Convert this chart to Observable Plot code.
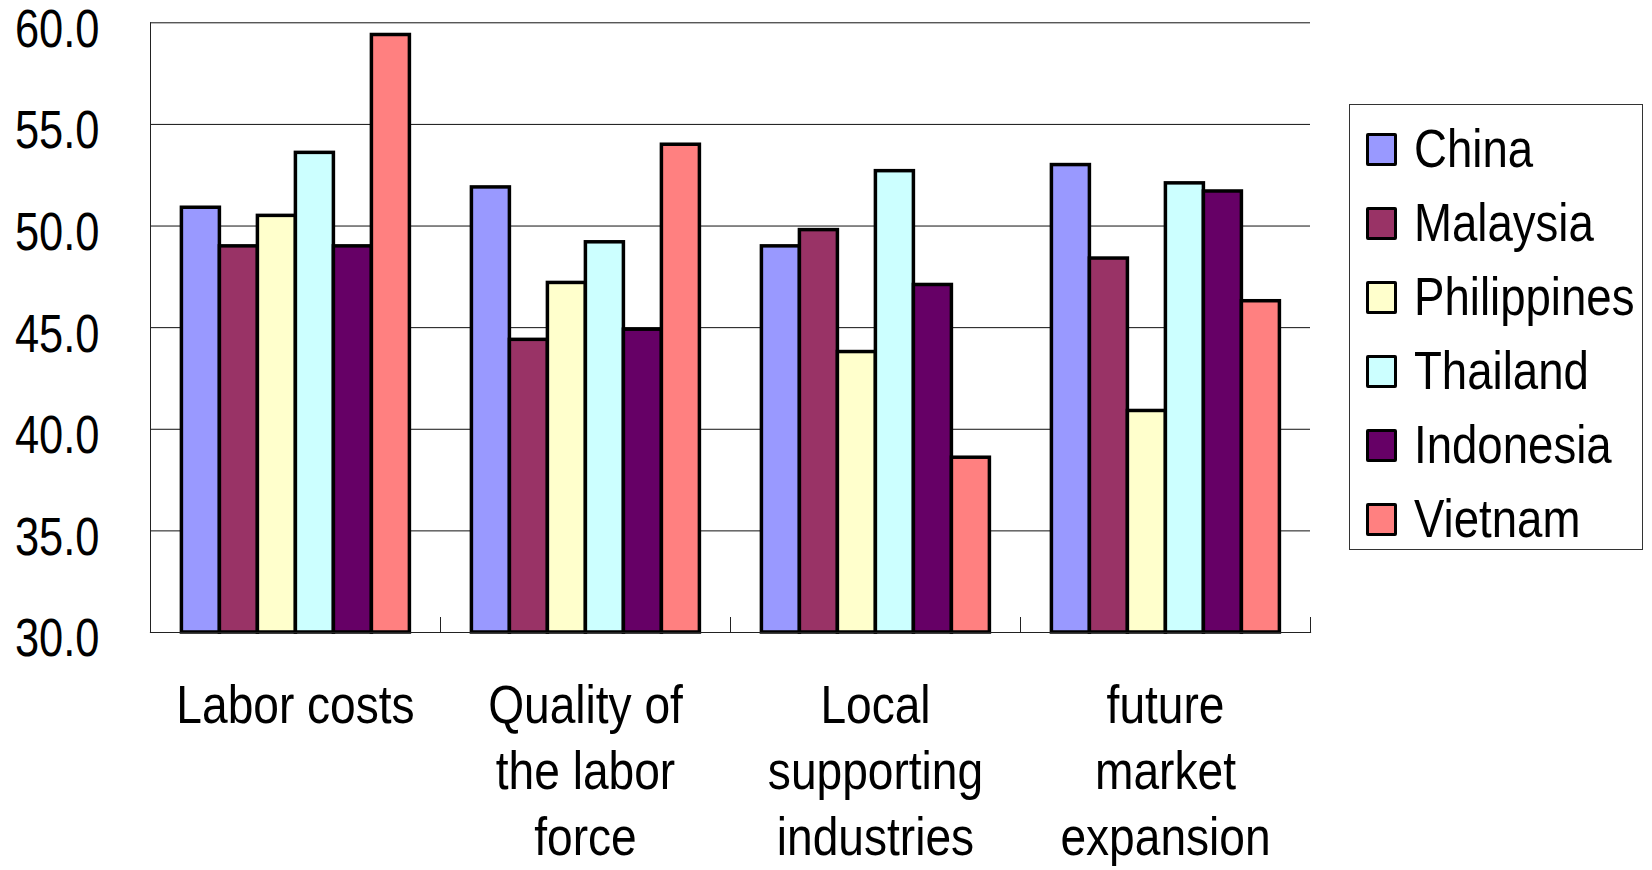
<!DOCTYPE html>
<html>
<head>
<meta charset="utf-8">
<script src="https://cdn.jsdelivr.net/npm/d3@7"></script>
<script src="https://cdn.jsdelivr.net/npm/@observablehq/plot@0.6"></script>
<style>
  html, body { margin: 0; padding: 0; background: #fff; }
  #chart { position: relative; width: 1652px; height: 870px; overflow: hidden;
           font-family: "Liberation Sans", Arial, sans-serif; }
  #chart svg { position: absolute; left: 0; top: 0; }
  #legend { position: absolute; left: 1349px; top: 104px; width: 294px; height: 446px;
            box-sizing: border-box; border: 1px solid #333; background: #fff; }
  .row { position: absolute; left: 16px; height: 74px; display: flex; align-items: center; }
  .sw { width: 31px; height: 33px; box-sizing: border-box; border: 3px solid #000; border-radius: 2px; flex: none; }
  .lab { margin-left: 17px; font-size: 53px; line-height: 1; color: #000; white-space: nowrap;
         transform: scaleX(0.86); transform-origin: 0 50%; position: relative; top: -1px; }
</style>
</head>
<body>
<div id="chart"><div id="legend"></div></div>
<script>
// Survey factors (facets) and the countries compared within each
const categories = ["Labor costs", "Quality of the labor force", "Local supporting industries", "future market expansion"];
const categoryLines = ["Labor costs", "Quality of\nthe labor\nforce", "Local\nsupporting\nindustries", "future\nmarket\nexpansion"];
const countries = ["China", "Malaysia", "Philippines", "Thailand", "Indonesia", "Vietnam"];
const colors = ["#9999FF", "#993366", "#FFFFCC", "#CCFFFF", "#660066", "#FF8080"];

// Scores per country, one array per factor (order follows `countries`)
const laborCosts = [50.9, 49.0, 50.5, 53.6, 49.0, 59.4];
const laborQuality = [51.9, 44.4, 47.2, 49.2, 44.9, 54.0];
const supportingIndustries = [49.0, 49.8, 43.8, 52.7, 47.1, 38.6];
const marketExpansion = [53.0, 48.4, 40.9, 52.1, 51.7, 46.3];

const yDomain = [30, 60];
const yTicks = [30, 35, 40, 45, 50, 55, 60];

const series = [laborCosts, laborQuality, supportingIndustries, marketExpansion];
const data = categories.flatMap((cat, i) =>
  countries.map((c, j) => ({category: cat, country: c, value: series[i][j]}))
);
const lineLabel = new Map(categories.map((c, i) => [c, categoryLines[i]]));

const W = 1652, H = 870;
const mL = 149.6, mR = W - 1310, mT = 22.3, mB = H - 632;
const innerH = H - mT - mB;

const chart = Plot.plot({
  width: W,
  height: H,
  marginLeft: mL,
  marginRight: mR,
  marginTop: mT,
  marginBottom: mB,
  style: {fontFamily: '"Liberation Sans", Arial, sans-serif', background: "transparent"},
  fx: {domain: categories, padding: 0},
  x: {domain: countries, paddingInner: 0, paddingOuter: 0.77, axis: null},
  y: {domain: yDomain},
  color: {domain: countries, range: colors},
  marks: [
    Plot.gridY(yTicks.filter(t => t > yDomain[0]), {stroke: "#111", strokeOpacity: 1, strokeWidth: 1}),
    Plot.barY(data, {
      fx: "category", x: "country", y1: () => yDomain[0], y2: "value",
      fill: "country", stroke: "#000", strokeWidth: 3.5
    }),
    // bottom axis line and short upward separators between groups
    Plot.frame({anchor: "bottom", stroke: "#222", strokeWidth: 1.2}),
    Plot.frame({anchor: "left", insetTop: innerH - 15, stroke: "#222"}),
    Plot.frame({anchor: "right", insetTop: innerH - 15, stroke: "#222", facetAnchor: "right"}),
    Plot.frame({anchor: "left", stroke: "#222", facetAnchor: "left"}),
    Plot.axisY(yTicks, {
      anchor: "left", tickSize: 0, tickPadding: 51, dy: 7, label: null,
      tickFormat: d3.format(".1f"), fontSize: 53, fill: "#000"
    }),
    Plot.axisFx({
      anchor: "bottom", tickSize: 0, tickPadding: 44, fontSize: 53, lineHeight: 1.245,
      tickFormat: d => lineLabel.get(d), fill: "#000", label: null
    })
  ]
});

// Narrow the axis lettering horizontally, keeping each label's anchor point fixed
const narrow = (sel, k) => d3.select(chart).selectAll(sel).each(function () {
  const t = this.getAttribute("transform") || "";
  this.setAttribute("transform", `${t} scale(${k},1)`);
});
narrow("g[aria-label='y-axis tick label'] text", 0.82);
narrow("g[aria-label='fx-axis tick label'] text", 0.87);

document.getElementById("chart").prepend(chart);

// Legend: one swatch row per country
const legend = d3.select("#legend");
countries.forEach((c, i) => {
  const row = legend.append("div").attr("class", "row").style("top", `${7 + i * 74}px`);
  row.append("div").attr("class", "sw").style("background", colors[i]);
  row.append("div").attr("class", "lab").text(c);
});
</script>
</body>
</html>
